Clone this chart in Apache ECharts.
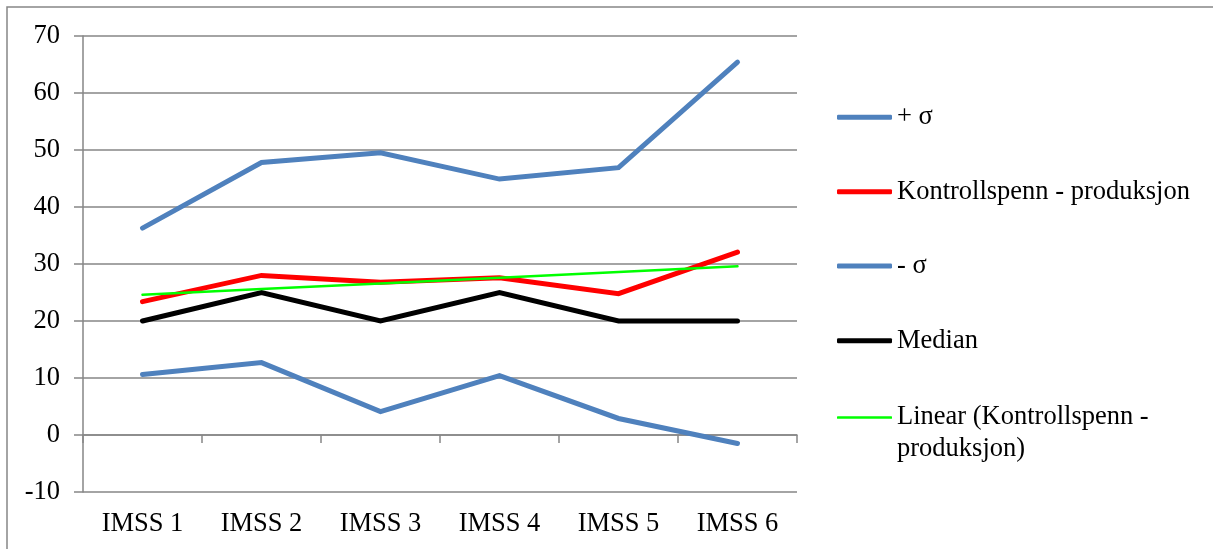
<!DOCTYPE html>
<html>
<head>
<meta charset="utf-8">
<script src="https://cdn.jsdelivr.net/npm/echarts@6/dist/echarts.min.js"></script>
<style>
  html, body { margin: 0; padding: 0; background: #ffffff; }
  #chart { width: 1213px; height: 549px; }
</style>
</head>
<body>
<div id="chart"></div>
<script>
// Categories and series values
const categories = ['IMSS 1', 'IMSS 2', 'IMSS 3', 'IMSS 4', 'IMSS 5', 'IMSS 6'];
const plusSigma = [36.3, 47.8, 49.5, 44.9, 46.9, 65.4];
const kontrollspenn = [23.4, 28.0, 26.8, 27.6, 24.8, 32.1];
const minusSigma = [10.6, 12.7, 4.1, 10.4, 2.9, -1.5];
const median = [20, 25, 20, 25, 20, 20];
const linearTrend = [24.6, 25.6, 26.6, 27.6, 28.6, 29.6];

// Value axis range
const yMin = -10;
const yMax = 70;
const yStep = 10;

const FONT = '"Liberation Serif", "Times New Roman", serif';
const FONT_SIZE = 26.5;
const GRID_GRAY = '#868686';
const BLUE = '#4F81BD';

const chart = echarts.init(document.getElementById('chart'), null, { renderer: 'canvas' });

function lineSeries(name, data, color, width) {
  return {
    name: name,
    type: 'line',
    data: data,
    symbol: 'none',
    smooth: false,
    lineStyle: { color: color, width: width, cap: 'round', join: 'miter' },
    itemStyle: { color: color },
    emphasis: { disabled: true },
    animation: false
  };
}

// One legend per entry so each row sits at its own height
function legendFor(name, top, thickness) {
  return {
    data: [name],
    left: 837,
    top: top,
    padding: 0,
    icon: 'roundRect',
    itemWidth: 55,
    itemHeight: thickness,
    selectedMode: false,
    itemStyle: { borderWidth: 0 },
    textStyle: {
      fontFamily: FONT,
      fontSize: FONT_SIZE,
      color: '#000000',
      lineHeight: 31
    }
  };
}

const option = {
  backgroundColor: '#ffffff',
  animation: false,
  graphic: [{
    type: 'rect',
    shape: { x: 7, y: 7, width: 1400, height: 700 },
    style: { fill: 'none', stroke: GRID_GRAY, lineWidth: 1.5 },
    silent: true,
    z: -1
  }],
  grid: { left: 83, right: 416, top: 36, bottom: 57, containLabel: false },
  legend: [
    legendFor('+ σ', 101.8, 5),
    legendFor('Kontrollspenn - produksjon', 176.2, 5),
    legendFor('- σ', 250.5, 5),
    legendFor('Median', 325.2, 5),
    Object.assign(legendFor('Linear (Kontrollspenn - produksjon)', 369.5, 2.5), {
      // leading blank line keeps the first text line level with the swatch
      formatter: function () { return '\nLinear (Kontrollspenn -\nproduksjon)'; },
      textStyle: { fontFamily: FONT, fontSize: FONT_SIZE, color: '#000000', lineHeight: 32 }
    })
  ],
  xAxis: [
    {
      // axis line crossing at zero, with boundary ticks
      type: 'category',
      data: categories,
      boundaryGap: true,
      position: 'bottom',
      axisLine: { show: true, onZero: true, lineStyle: { color: GRID_GRAY, width: 1.5 } },
      axisTick: { show: true, inside: false, length: 8, alignWithLabel: false, lineStyle: { color: GRID_GRAY, width: 1.5 } },
      axisLabel: { show: false },
      splitLine: { show: false }
    },
    {
      // category labels along the bottom edge
      type: 'category',
      data: categories,
      boundaryGap: true,
      position: 'bottom',
      axisLine: { show: false, onZero: false },
      axisTick: { show: false },
      axisLabel: { show: true, margin: 19, fontFamily: FONT, fontSize: FONT_SIZE, color: '#000000' },
      splitLine: { show: false }
    }
  ],
  yAxis: {
    type: 'value',
    min: yMin,
    max: yMax,
    interval: yStep,
    axisLine: { show: true, lineStyle: { color: GRID_GRAY, width: 1.5 } },
    axisTick: { show: true, inside: false, length: 9, lineStyle: { color: GRID_GRAY, width: 1.5 } },
    axisLabel: { margin: 23, fontFamily: FONT, fontSize: FONT_SIZE, color: '#000000' },
    splitLine: { show: true, lineStyle: { color: GRID_GRAY, width: 1.5 } }
  },
  series: [
    lineSeries('+ σ', plusSigma, BLUE, 5),
    lineSeries('Kontrollspenn - produksjon', kontrollspenn, '#FF0000', 5),
    lineSeries('- σ', minusSigma, BLUE, 5),
    lineSeries('Median', median, '#000000', 5),
    lineSeries('Linear (Kontrollspenn - produksjon)', linearTrend, '#00FF00', 2.5)
  ]
};

chart.setOption(option);
</script>
</body>
</html>
